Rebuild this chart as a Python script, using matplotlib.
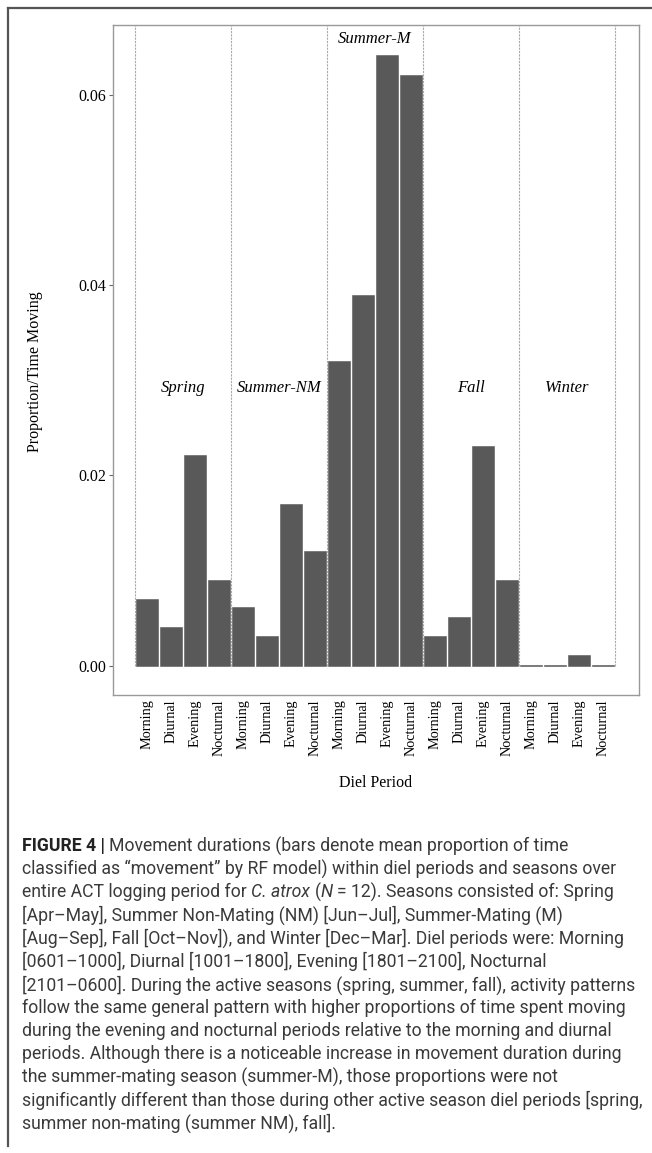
import matplotlib
matplotlib.use("Agg")
import matplotlib.pyplot as plt
from matplotlib.lines import Line2D
import numpy as np

# ---------------- data ----------------
seasons = ["Spring", "Summer-NM", "Summer-M", "Fall", "Winter"]
periods = ["Morning", "Diurnal", "Evening", "Nocturnal"]
spring = [0.0070, 0.0041, 0.0221, 0.0090]
summer_nm = [0.0062, 0.0031, 0.0170, 0.0121]
summer_m = [0.0320, 0.0390, 0.0641, 0.0621]
fall = [0.0031, 0.0051, 0.0231, 0.0090]
winter = [0.0001, 0.0001, 0.0011, 0.0001]
season_label_y = [0.0292, 0.0292, 0.0658, 0.0292, 0.0292]
yticks = [0.00, 0.02, 0.04, 0.06]
ytick_labels = ["0.00", "0.02", "0.04", "0.06"]

caption_lines = [
    [("FIGURE 4 |", "b"), ("Movement durations (bars denote mean proportion of time", "r")],
    [("classified as \u201cmovement\u201d by RF model) within diel periods and seasons over", "r")],
    [("entire ACT logging period for", "r"), ("C. atrox", "i"), ("(", "r0"), ("N", "i"),
     ("= 12). Seasons consisted of: Spring", "r")],
    [("[Apr\u2013May], Summer Non-Mating (NM) [Jun\u2013Jul], Summer-Mating (M)", "r")],
    [("[Aug\u2013Sep], Fall [Oct\u2013Nov]), and Winter [Dec\u2013Mar]. Diel periods were: Morning", "r")],
    [("[0601\u20131000], Diurnal [1001\u20131800], Evening [1801\u20132100], Nocturnal", "r")],
    [("[2101\u20130600]. During the active seasons (spring, summer, fall), activity patterns", "r")],
    [("follow the same general pattern with higher proportions of time spent moving", "r")],
    [("during the evening and nocturnal periods relative to the morning and diurnal", "r")],
    [("periods. Although there is a noticeable increase in movement duration during", "r")],
    [("the summer-mating season (summer-M), those proportions were not", "r")],
    [("significantly different than those during other active season diel periods [spring,", "r")],
    [("summer non-mating (summer NM), fall].", "r")],
]

values = spring + summer_nm + summer_m + fall + winter
labels = periods * len(seasons)
x = np.arange(len(values))

W, H = 652, 1153
fig = plt.figure(figsize=(W / 100, H / 100), dpi=100)
serif = "Liberation Serif"

ax = fig.add_axes([113 / W, 1 - 695 / H, (639 - 113) / W, (695 - 25) / H])
ax.bar(x, values, width=0.9, color="#595959", edgecolor="#595959", linewidth=0.4, zorder=3)
ax.set_xlim(-1.42, 20.5)
ax.set_ylim(-0.00305, 0.0673)

for b in np.arange(len(seasons) + 1) * 4 - 0.5:
    ax.vlines(b, 0, 0.0673, colors="#aaaaaa", linestyles=(0, (2, 1)), linewidth=0.8, zorder=2)

for i, s in enumerate(seasons):
    ax.text(i * 4 + 1.5, season_label_y[i], s, ha="center", va="center",
            fontfamily=serif, fontstyle="italic", fontsize=12)

ax.set_xticks(x)
ax.set_xticklabels(labels, rotation=90, fontfamily=serif, fontsize=10.3)
ax.set_yticks(yticks)
ax.set_yticklabels(ytick_labels, fontfamily=serif, fontsize=11.5)
ax.tick_params(axis="x", length=0, pad=3)
ax.tick_params(axis="y", length=3, color="#666666", width=0.8, pad=2)
for sp in ax.spines.values():
    sp.set_color("#999999")
    sp.set_linewidth(1.0)

fig.text(35 / W, 1 - 372 / H, "Proportion/Time Moving", rotation=90, ha="center", va="center",
         fontfamily=serif, fontsize=11.5)
fig.text(376 / W, 1 - 783 / H, "Diel Period", ha="center", va="center",
         fontfamily=serif, fontsize=11.5)

# outer frame
fig.add_artist(Line2D([8 / W, 1.0], [1 - 8 / H, 1 - 8 / H], transform=fig.transFigure,
                      color="#555555", linewidth=1.6))
fig.add_artist(Line2D([8 / W, 8 / W], [1 - 8 / H, 1 - 1146 / H], transform=fig.transFigure,
                      color="#555555", linewidth=1.6))

# caption
renderer = fig.canvas.get_renderer()
cap_font = "Roboto"
cap_size = 12.7
cap_color = "#3a3a3a"
cap_weight = "normal"
space_t = fig.text(0, 0, "a a", fontfamily=cap_font, fontsize=cap_size, fontweight=cap_weight)
nospace_t = fig.text(0, 0, "aa", fontfamily=cap_font, fontsize=cap_size, fontweight=cap_weight)
space_w = space_t.get_window_extent(renderer).width - nospace_t.get_window_extent(renderer).width
space_t.remove()
nospace_t.remove()

y0 = 846
dy = 23.15
for li, line in enumerate(caption_lines):
    xp = 22.0
    yp = 1 - (y0 + li * dy) / H
    for j, (txt, style) in enumerate(line):
        kw = dict(fontfamily=cap_font, fontsize=cap_size, color=cap_color, va="center", ha="left")
        if style == "b":
            kw["fontweight"] = "bold"
            kw["color"] = "#222222"
        elif style == "i":
            kw["fontstyle"] = "italic"
            kw["fontweight"] = cap_weight
        else:
            kw["fontweight"] = cap_weight
        t = fig.text(xp / W, yp, txt, **kw)
        ext = t.get_window_extent(renderer)
        xp = ext.x1 + (0 if style == "r0" else space_w)

fig.savefig("out.png", dpi=100)
